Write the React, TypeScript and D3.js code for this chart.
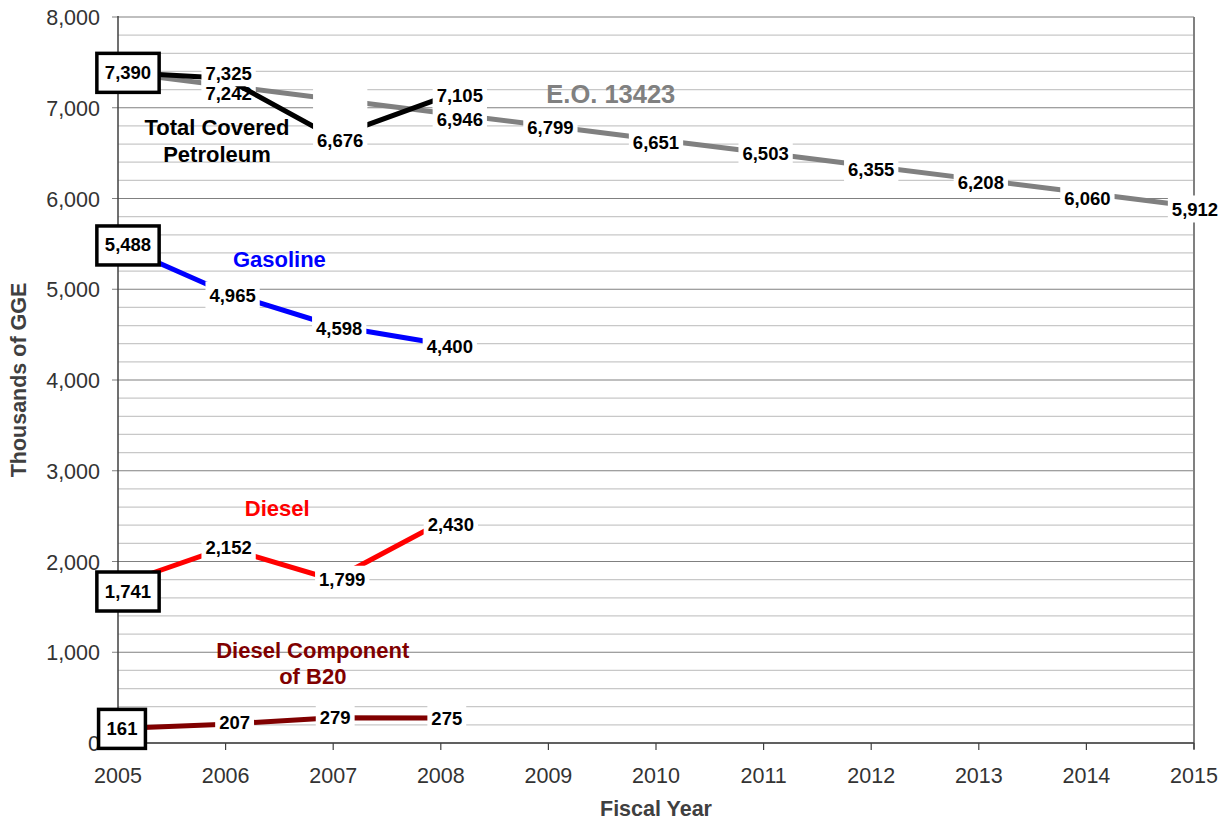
import React from 'react';
import * as d3 from 'd3';

const W = 1232;
const H = 822;
const FONT = '"Liberation Sans", Arial, sans-serif';

const years = [2005, 2006, 2007, 2008, 2009, 2010, 2011, 2012, 2013, 2014, 2015];
const eoTarget = [7390, 7242, 7094, 6946, 6799, 6651, 6503, 6355, 6208, 6060, 5912];
const totalPetroleum = [7390, 7325, 6676, 7105];
const gasoline = [5488, 4965, 4598, 4400];
const diesel = [1741, 2152, 1799, 2430];
const dieselB20 = [161, 207, 279, 275];
const yTicks = [0, 1000, 2000, 3000, 4000, 5000, 6000, 7000, 8000];

// label nudges in px: [dx, dy], null = no label, 'box' = boxed first value
type Off = [number, number] | null | 'box';
const eoOffsets: Off[] = [null, [3, 8], null, [19, 7], [2, 2], [0, 3], [2, 1], [0, 3], [2, 3], [1, 5], [1, 3]];
const totalOffsets: Off[] = ['box', [3, -5], [7, 3], [19, -3]];
const gasOffsets: Off[] = ['box', [7, 3], [6, 3], [9, 3]];
const dieselOffsets: Off[] = ['box', [3, 0], [9, 0], [10, 2]];
const b20Offsets: Off[] = ['box', [9, -2], [2, 0], [6, 0]];

const x = d3.scaleLinear().domain([2005, 2015]).range([118, 1194]);
const y = d3.scaleLinear().domain([0, 8000]).range([743, 17]);

const fmt = d3.format(',');
const textW = (s: string, size: number) =>
  s.split('').reduce((a, c) => a + (c === ',' ? 0.278 : 0.556), 0) * size;

interface SeriesProps {
  values: number[];
  color: string;
  offsets: Off[];
  boxDy?: number;
  tallLabel?: number;
}

const Series = ({ values, color, offsets, boxDy = 0, tallLabel = -1 }: SeriesProps) => {
  const line = d3
    .line<number>()
    .x((_, i) => x(years[i]))
    .y((d) => y(d));
  const fs = 18.5;
  return (
    <g>
      <path d={line(values) || ''} fill="none" stroke={color} strokeWidth={5} />
      {values.map((v, i) => {
        const off = offsets[i];
        if (!off) return null;
        const s = fmt(v);
        const w = textW(s, fs);
        if (off === 'box') {
          const cx = x(years[i]) + (w < 35 ? 4 : 10);
          const cy = y(v) + boxDy;
          return (
            <g key={i}>
              <rect x={cx - w / 2 - 8} y={cy - 19} width={w + 16} height={39} fill="#fff" stroke="#000" strokeWidth={3.5} />
              <text x={cx} y={cy + 6.5} textAnchor="middle" fontSize={fs} fontWeight="bold" fill="#000">
                {s}
              </text>
            </g>
          );
        }
        const cx = x(years[i]) + off[0];
        const cy = y(v) + off[1];
        const top = i === tallLabel ? 89 : cy - 14;
        return (
          <g key={i}>
            <rect x={cx - w / 2 - 4} y={top} width={w + 8} height={cy + 13 - top} fill="#fff" />
            <text x={cx} y={cy + 6.5} textAnchor="middle" fontSize={fs} fontWeight="bold" fill="#000">
              {s}
            </text>
          </g>
        );
      })}
    </g>
  );
};

export default function App() {
  const minor = d3.range(0, 8001, 200).filter((v) => v % 1000 !== 0);
  return (
    <svg
      width={W}
      height={H}
      viewBox={`0 0 ${W} ${H}`}
      style={{ position: 'absolute', left: 0, top: 0, background: '#fff' }}
      fontFamily={FONT}
    >
      {/* grid */}
      {minor.map((v) => (
        <line key={v} x1={x(2005)} x2={x(2015)} y1={y(v)} y2={y(v)} stroke="#c8c8c8" strokeWidth={1.2} />
      ))}
      {yTicks.map((v) => (
        <line key={v} x1={x(2005) - 6} x2={x(2015)} y1={y(v)} y2={y(v)} stroke="#808080" strokeWidth={1.2} />
      ))}
      <line x1={x(2015)} x2={x(2015)} y1={y(8000)} y2={y(0) + 6} stroke="#808080" strokeWidth={2} />
      <line x1={x(2005)} x2={x(2005)} y1={y(8000) - 1} y2={y(0)} stroke="#404040" strokeWidth={1.5} />
      <line x1={x(2005)} x2={x(2015)} y1={y(0)} y2={y(0)} stroke="#404040" strokeWidth={1.5} />
      {years.map((yr) => (
        <line key={yr} x1={x(yr)} x2={x(yr)} y1={y(0)} y2={y(0) + 7} stroke="#404040" strokeWidth={1.2} />
      ))}

      {/* tick labels */}
      {yTicks.map((v) => (
        <text key={v} x={x(2005) - 18} y={y(v) + 8} textAnchor="end" fontSize={21.5} fill="#333">
          {fmt(v)}
        </text>
      ))}
      {years.map((yr) => (
        <text key={yr} x={x(yr)} y={y(0) + 40} textAnchor="middle" fontSize={21.5} fill="#333">
          {yr}
        </text>
      ))}

      {/* axis titles */}
      <text x={656} y={816} textAnchor="middle" fontSize={21.5} fontWeight="bold" fill="#404040">
        Fiscal Year
      </text>
      <text
        transform={`translate(26,${380}) rotate(-90)`}
        textAnchor="middle"
        fontSize={21.5}
        fontWeight="bold"
        fill="#404040"
      >
        Thousands of GGE
      </text>

      {/* series */}
      <Series values={eoTarget} color="#808080" offsets={eoOffsets} />
      <Series values={totalPetroleum} color="#000" offsets={totalOffsets} tallLabel={2} />
      <Series values={gasoline} color="#0000ff" offsets={gasOffsets} />
      <Series values={diesel} color="#ff0000" offsets={dieselOffsets} boxDy={6} />
      <Series values={dieselB20} color="#800000" offsets={b20Offsets} />

      {/* series names */}
      <text x={x(2009.58)} y={y(7052)} textAnchor="middle" fontSize={25.5} fontWeight="bold" fill="#808080">
        E.O. 13423
      </text>
      <text x={x(2005.92)} y={y(6700)} textAnchor="middle" fontSize={22} fontWeight="bold" fill="#000">
        Total Covered
      </text>
      <text x={x(2005.92)} y={y(6400)} textAnchor="middle" fontSize={22} fontWeight="bold" fill="#000">
        Petroleum
      </text>
      <text x={x(2006.5)} y={y(5240)} textAnchor="middle" fontSize={22} fontWeight="bold" fill="#0000ff">
        Gasoline
      </text>
      <text x={x(2006.48)} y={y(2496)} textAnchor="middle" fontSize={22} fontWeight="bold" fill="#ff0000">
        Diesel
      </text>
      <text x={x(2006.81)} y={y(942)} textAnchor="middle" fontSize={22} fontWeight="bold" fill="#800000">
        Diesel Component
      </text>
      <text x={x(2006.81)} y={y(645)} textAnchor="middle" fontSize={22} fontWeight="bold" fill="#800000">
        of B20
      </text>
    </svg>
  );
}
